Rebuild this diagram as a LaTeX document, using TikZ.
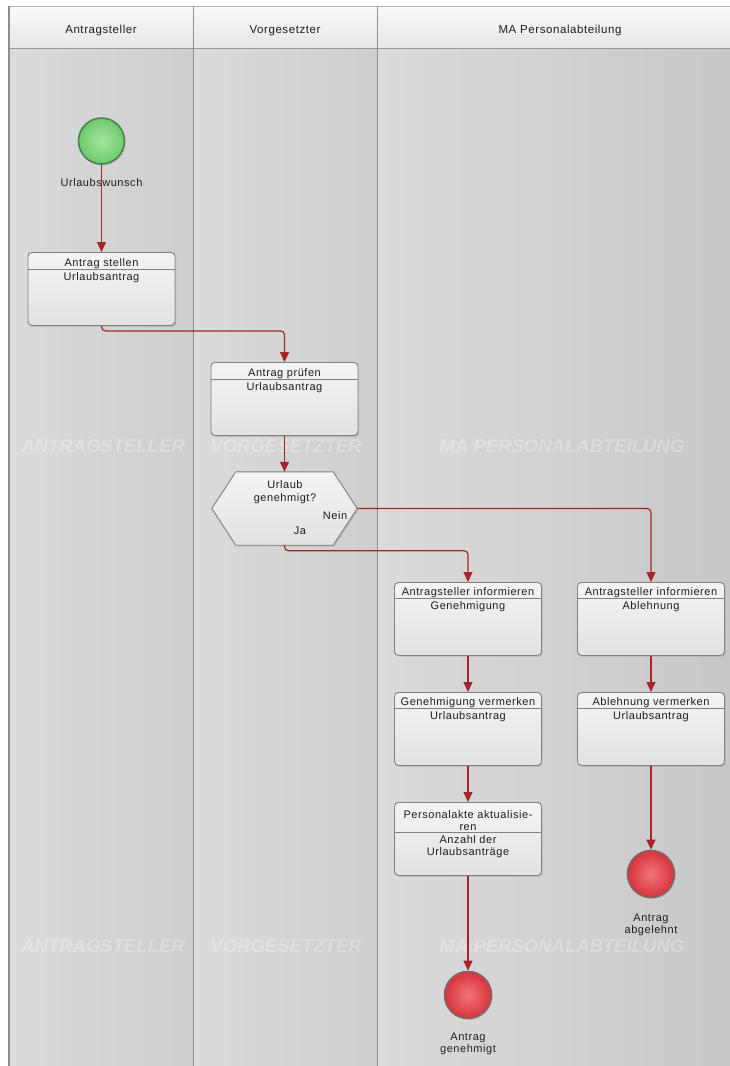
\documentclass[tikz,border=0pt]{standalone}
\usepackage{fontspec}
\setmainfont{Liberation Sans}
\newfontfamily\lblfont[LetterSpace=5]{Liberation Sans}
\usetikzlibrary{arrows.meta,calc,shadows}

\definecolor{flow}{HTML}{A3262A}
\definecolor{laneL}{HTML}{DBDBDB}
\definecolor{laneR}{HTML}{CECECE}
\definecolor{hdrTop}{HTML}{FBFBFB}
\definecolor{hdrBot}{HTML}{E6E6E6}
\definecolor{frameline}{HTML}{8E8E8E}
\definecolor{boxline}{HTML}{808080}
\definecolor{boxTop}{HTML}{F4F4F4}
\definecolor{boxBot}{HTML}{E2E2E2}
\definecolor{txt}{HTML}{1E1E1E}
\definecolor{greenIn}{HTML}{A6E6A0}
\definecolor{greenOut}{HTML}{6CC96C}
\definecolor{greenLine}{HTML}{4F824F}
\definecolor{redIn}{HTML}{F2767A}
\definecolor{redOut}{HTML}{D8333B}
\definecolor{redLine}{HTML}{7D6868}

% task box: title, separator, body
\newcommand\taskbox[6]{%
  \node[task,anchor=north] (#1) at (#2,#3) {};
  \draw[divider] ($(#1.north west)+(0,#4)$) -- ($(#1.north east)+(0,#4)$);
  \node[lbl,anchor=base] (#1-t) at ($(#1.north)+(0,#4-3)$) {#5};
  \node[lbl,anchor=base] (#1-b) at ($(#1.north)+(0,#4+11.5)$) {#6};
}

\begin{document}
\begin{tikzpicture}[x=1pt,y=-1pt,
  lbl/.style={font=\lblfont\fontsize{11}{12.5}\selectfont, text=txt, inner sep=0pt},
  hdr/.style={font=\lblfont\fontsize{11.5}{13}\selectfont, text=txt, inner sep=0pt},
  wmark/.style={font=\fontsize{18.5}{20}\selectfont\bfseries\itshape, text=white, text opacity=0.28, inner sep=0pt},
  task/.style={draw=boxline, line width=0.9pt, rounded corners=4pt,
    minimum width=147pt, minimum height=73pt, inner sep=0pt,
    top color=boxTop, bottom color=boxBot,
    drop shadow={opacity=0.25, shadow xshift=1.2pt, shadow yshift=-1.5pt}},
  divider/.style={draw=boxline, line width=0.9pt},
  startev/.style={circle, minimum size=46pt, inner sep=0pt, draw=greenLine, line width=1.6pt,
    inner color=greenIn, outer color=greenOut,
    drop shadow={opacity=0.25, shadow xshift=1.2pt, shadow yshift=-1.5pt}},
  endev/.style={circle, minimum size=47pt, inner sep=0pt, draw=redLine, line width=1.6pt,
    inner color=redIn, outer color=redOut,
    drop shadow={opacity=0.25, shadow xshift=1.2pt, shadow yshift=-1.5pt}},
  flowline/.style={draw=flow, line width=1.2pt, rounded corners=4pt,
    -{Triangle[length=10pt,width=9pt]}},
]
\useasboundingbox (0,0) rectangle (730,1066);
\fill[white] (0,0) rectangle (730,1066);

% swimlanes
\shade[left color=laneL, right color=laneR] (9,48) rectangle (193,1066);
\shade[left color=laneL, right color=laneR] (193,48) rectangle (377,1066);
\shade[left color=laneL, right color=laneR!97!black] (377,48) rectangle (730,1066);

% lane headers
\shade[top color=hdrTop, bottom color=hdrBot] (9,6) rectangle (730,48);
\draw[gray!60, line width=0.8pt] (9,6) -- (730,6);
\draw[frameline!90, line width=1pt] (9,48) -- (730,48);
\draw[frameline, line width=1.5pt] (9,6) -- (9,1066);
\draw[frameline, line width=1pt] (193,6) -- (193,1066);
\draw[frameline, line width=1pt] (377,6) -- (377,1066);

\node[hdr] (h1) at (101,31) {Antragsteller};
\node[hdr] (h2) at (285,31) {Vorgesetzter};
\node[hdr] (h3) at (560,31) {MA Personalabteilung};

% lane watermarks
\node[wmark] (w1) at (103,446) {ANTRAGSTELLER};
\node[wmark] (w2) at (286,446) {VORGESETZTER};
\node[wmark] (w3) at (562,446) {MA PERSONALABTEILUNG};
\node[wmark] (w4) at (103,946) {ANTRAGSTELLER};
\node[wmark] (w5) at (286,946) {VORGESETZTER};
\node[wmark] (w6) at (562,946) {MA PERSONALABTEILUNG};

% start event
\node[startev] (start) at (101.5,141) {};
\node[lbl] (start-l) at (101.5,183) {Urlaubswunsch};

% tasks
\taskbox{b1}{101.5}{252}{17}{Antrag stellen}{Urlaubsantrag}
\taskbox{b2}{284.5}{362}{17}{Antrag prüfen}{Urlaubsantrag}
\taskbox{b3}{468}{582}{16}{Antragsteller informieren}{Genehmigung}
\taskbox{b4}{651}{582}{16}{Antragsteller informieren}{Ablehnung}
\taskbox{b5}{468}{692}{16}{Genehmigung vermerken}{Urlaubsantrag}
\taskbox{b6}{651}{692}{16}{Ablehnung vermerken}{Urlaubsantrag}

% task with a two-line title
\node[task,anchor=north] (b7) at (468,802) {};
\draw[divider] ($(b7.north west)+(0,30)$) -- ($(b7.north east)+(0,30)$);
\node[lbl,anchor=base] (b7-t1) at ($(b7.north)+(0,16)$) {Personalakte aktualisie-};
\node[lbl,anchor=base] (b7-t2) at ($(b7.north)+(0,28)$) {ren};
\node[lbl,anchor=base] (b7-b1) at ($(b7.north)+(0,41)$) {Anzahl der};
\node[lbl,anchor=base] (b7-b2) at ($(b7.north)+(0,53)$) {Urlaubsanträge};

% decision
\node[minimum width=145pt, minimum height=73pt, inner sep=0pt] (dec) at (284.5,508.5) {};
\path[draw=boxline, line width=0.9pt, top color=boxTop, bottom color=boxBot,
  drop shadow={opacity=0.25, shadow xshift=1.2pt, shadow yshift=-1.5pt}]
  (dec.west) -- ($(dec.north west)+(24,0)$) -- ($(dec.north east)+(-24,0)$)
  -- (dec.east) -- ($(dec.south east)+(-24,0)$) -- ($(dec.south west)+(24,0)$) -- cycle;
\node[lbl, align=center] (dec-q) at (285,492) {Urlaub\\genehmigt?};
\node[lbl] (dec-n) at (335,516) {Nein};
\node[lbl] (dec-j) at (300,531) {Ja};

% end events
\node[endev] (endno) at (651,874) {};
\node[lbl, align=center] (endno-l) at (651,925) {Antrag\\abgelehnt};
\node[endev] (endyes) at (468,995) {};
\node[lbl, align=center] (endyes-l) at (468,1044) {Antrag\\genehmigt};

% sequence flows
\draw[flowline] (start.south) -- (b1.north);
\draw[flowline] (b1.south) -- ++(0,5) -| (b2.north);
\draw[flowline] (b2.south) -- (dec.north);
\draw[flowline] (dec.east) -| (b4.north);
\draw[flowline] (dec.south) -- ++(0,5.5) -| (b3.north);
\draw[flowline] (b3.south) -- (b5.north);
\draw[flowline] (b5.south) -- (b7.north);
\draw[flowline] (b4.south) -- (b6.north);
\draw[flowline] (b6.south) -- (endno.north);
\draw[flowline] (b7.south) -- (endyes.north);
\end{tikzpicture}
\end{document}
